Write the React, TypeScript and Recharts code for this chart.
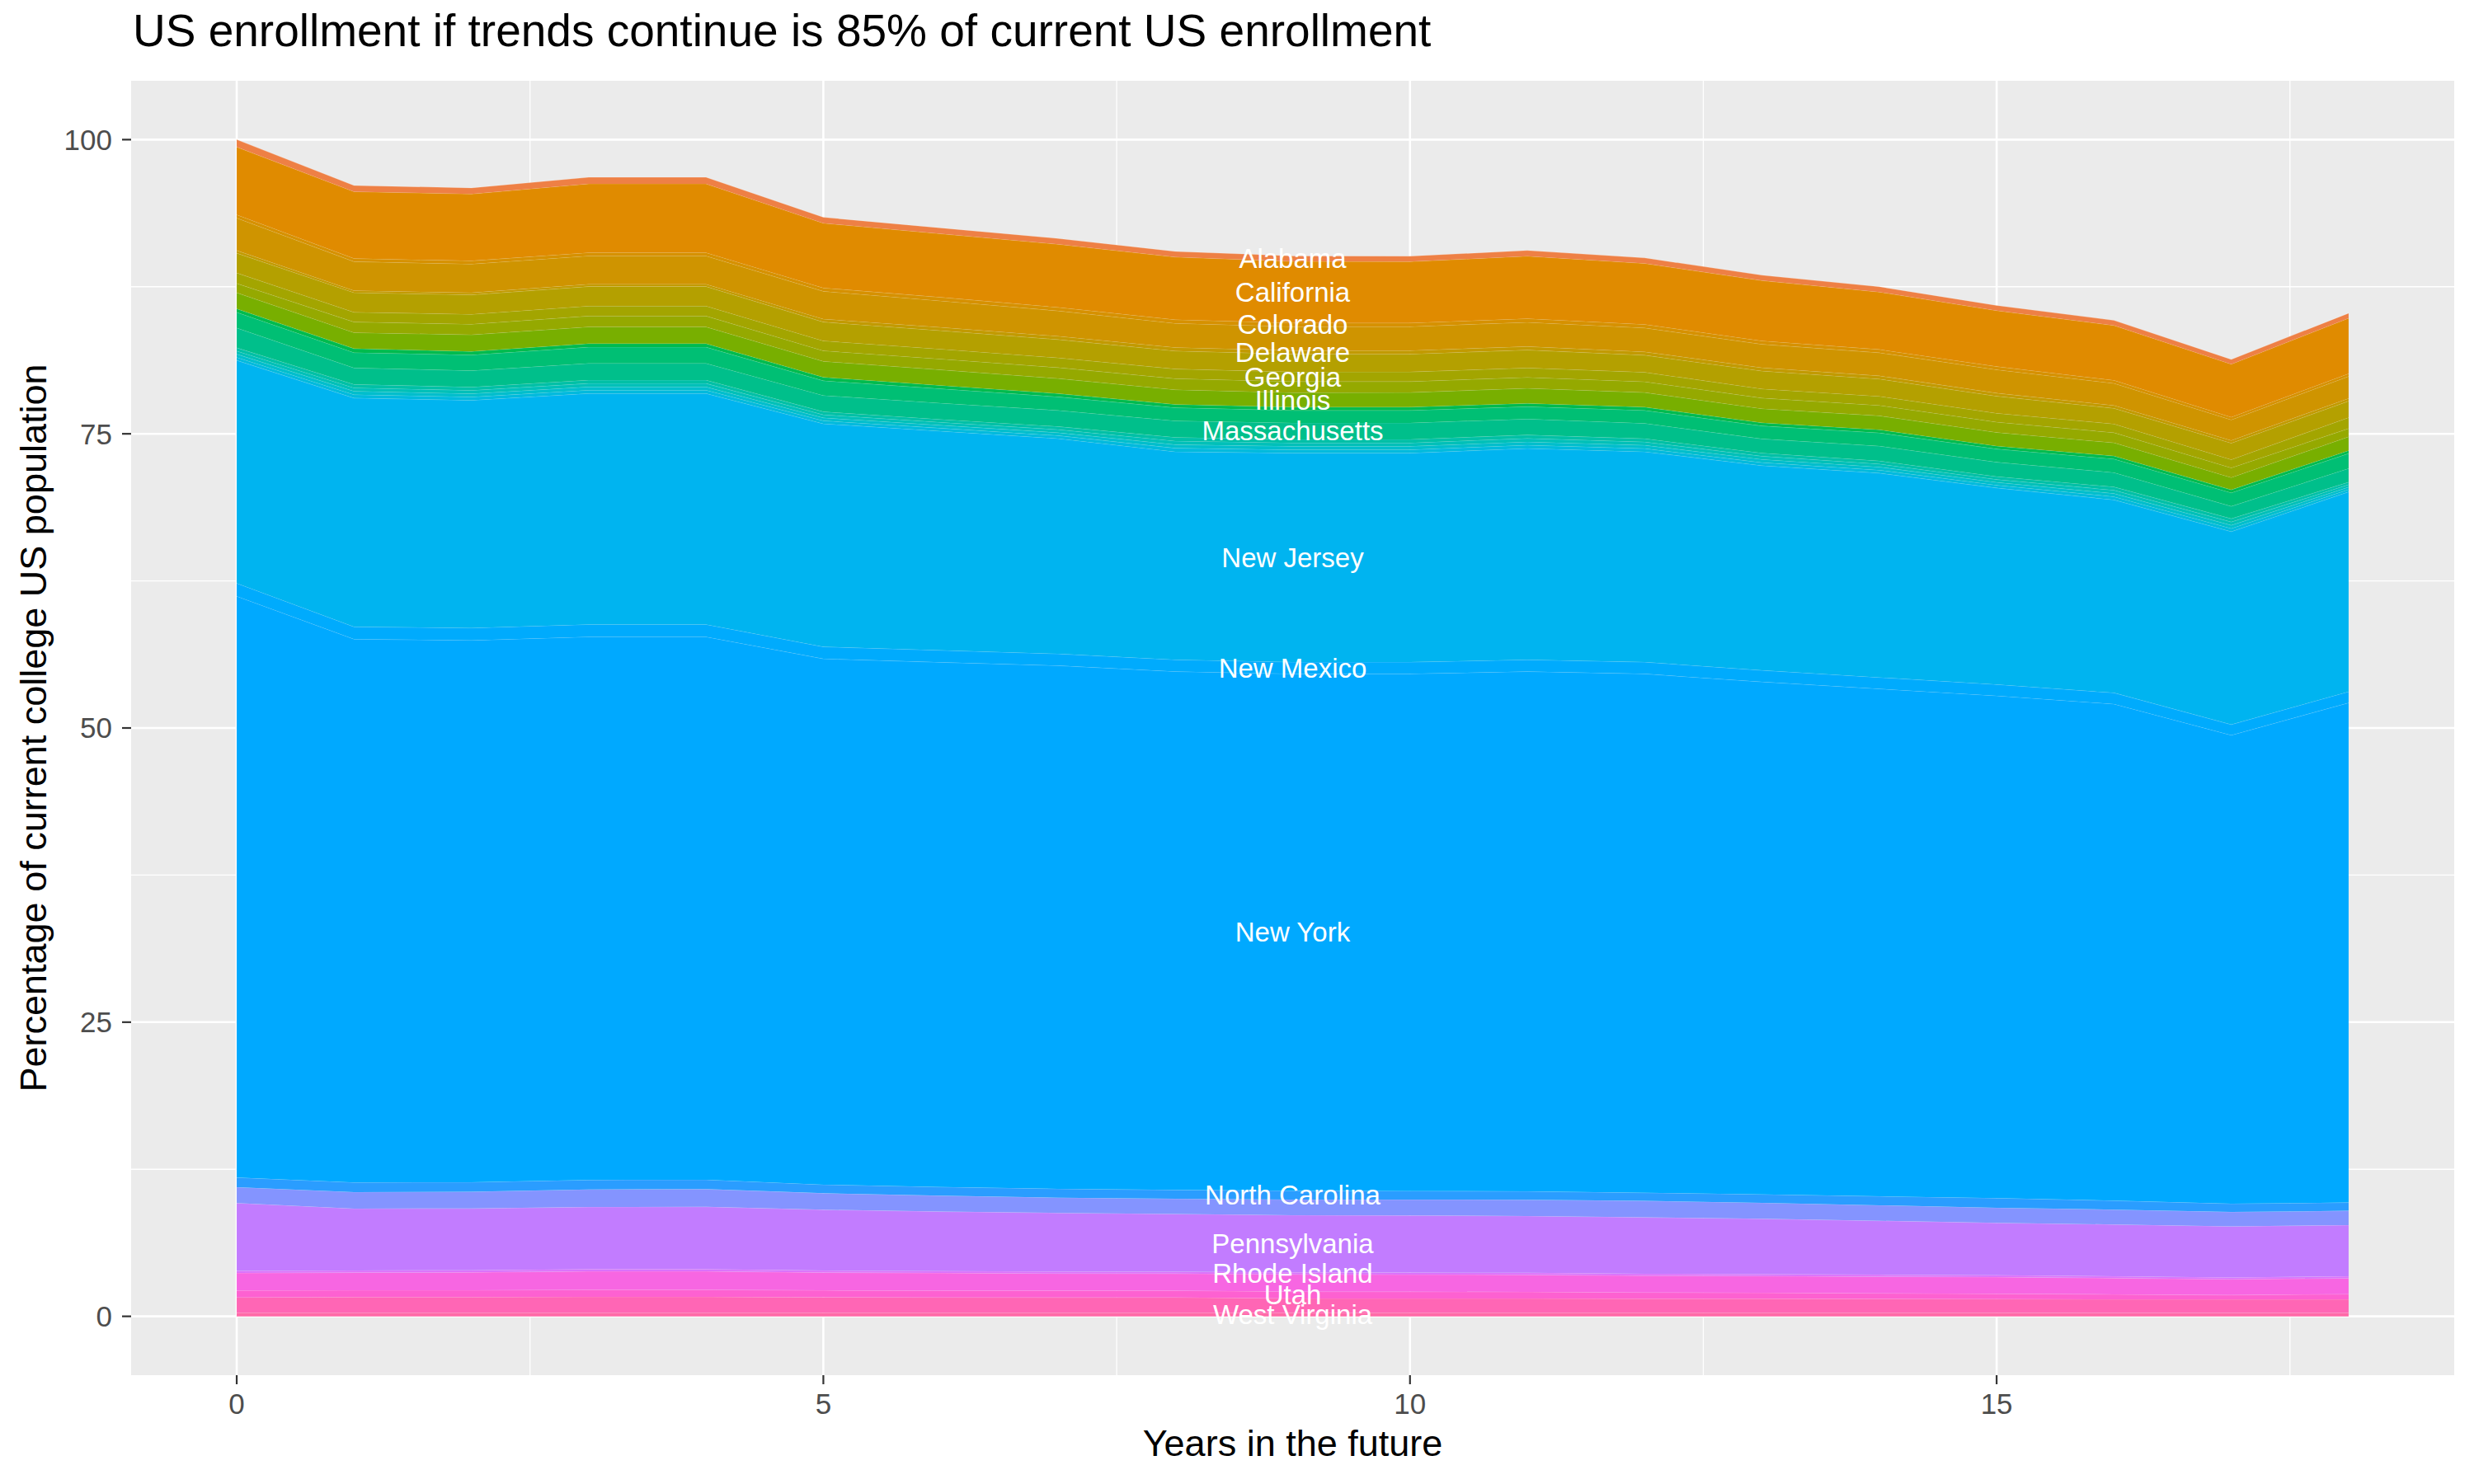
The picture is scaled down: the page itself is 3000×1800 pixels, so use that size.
import React from 'react'
import { AreaChart, Area, XAxis, YAxis, CartesianGrid, ReferenceDot } from 'recharts'

// years in the future
const years = [0, 1, 2, 3, 4, 5, 6, 7, 8, 9, 10, 11, 12, 13, 14, 15, 16, 17, 18]

// share of current college population, one array per state (top of stack first)
const alabama = [0.63, 0.52, 0.52, 0.55, 0.55, 0.5, 0.5, 0.49, 0.48, 0.47, 0.47, 0.48, 0.47, 0.46, 0.45, 0.44, 0.43, 0.4, 0.42]
const california = [5.75, 5.68, 5.68, 5.85, 5.85, 5.5, 5.4, 5.36, 5.32, 5.23, 5.21, 5.31, 5.18, 5.12, 4.88, 4.75, 4.66, 4.5, 4.72]
const colorado = [0.28, 0.27, 0.27, 0.28, 0.28, 0.29, 0.3, 0.3, 0.31, 0.31, 0.31, 0.31, 0.3, 0.29, 0.28, 0.27, 0.26, 0.23, 0.23]
const connecticut = [2.76, 2.46, 2.44, 2.4, 2.4, 2.35, 2.25, 2.15, 2.05, 2.03, 2.03, 2.06, 2.03, 1.99, 1.96, 1.99, 1.87, 1.75, 1.87]
const delaware = [0.23, 0.17, 0.18, 0.2, 0.2, 0.26, 0.28, 0.29, 0.3, 0.3, 0.3, 0.3, 0.29, 0.28, 0.27, 0.26, 0.25, 0.23, 0.23]
const florida = [1.68, 1.67, 1.65, 1.66, 1.66, 1.6, 1.57, 1.55, 1.53, 1.52, 1.52, 1.52, 1.45, 1.52, 1.47, 1.45, 1.33, 1.4, 1.4]
const georgia = [0.89, 0.83, 0.84, 0.85, 0.85, 0.84, 0.84, 0.83, 0.82, 0.82, 0.82, 0.8, 0.8, 0.78, 0.77, 0.75, 0.74, 0.7, 0.93]
const idaho = [0.79, 0.9, 0.9, 0.92, 0.92, 0.9, 0.92, 0.93, 0.94, 0.94, 0.93, 0.93, 0.92, 0.9, 0.89, 0.88, 0.86, 0.82, 0.7]
const illinois = [1.36, 1.36, 1.42, 1.42, 1.42, 1.35, 1.32, 1.28, 1.25, 1.23, 1.24, 1.28, 1.24, 1.2, 1.18, 1.15, 1.12, 1.05, 1.17]
const indiana = [0.3, 0.34, 0.3, 0.3, 0.3, 0.3, 0.29, 0.28, 0.28, 0.28, 0.28, 0.28, 0.28, 0.27, 0.27, 0.26, 0.26, 0.25, 0.25]
const maryland = [1.33, 1.3, 1.33, 1.38, 1.38, 1.25, 1.22, 1.15, 1.12, 1.06, 1.06, 1.05, 1.1, 1.1, 1.12, 1.12, 1.15, 1.15, 1.27]
const massachusetts = [1.69, 1.4, 1.4, 1.42, 1.42, 1.38, 1.38, 1.37, 1.4, 1.4, 1.4, 1.36, 1.3, 1.2, 1.26, 1.22, 1.22, 1.05, 1.17]
const michigan = [0.27, 0.29, 0.28, 0.29, 0.29, 0.26, 0.25, 0.26, 0.31, 0.3, 0.3, 0.29, 0.28, 0.27, 0.26, 0.25, 0.28, 0.28, 0.21]
const minnesota = [0.27, 0.29, 0.28, 0.29, 0.29, 0.26, 0.25, 0.26, 0.31, 0.29, 0.29, 0.29, 0.28, 0.27, 0.26, 0.24, 0.28, 0.28, 0.21]
const missouri = [0.27, 0.29, 0.28, 0.28, 0.28, 0.25, 0.25, 0.25, 0.3, 0.29, 0.29, 0.28, 0.28, 0.27, 0.26, 0.24, 0.27, 0.27, 0.2]
const newHampshire = [0.26, 0.29, 0.28, 0.28, 0.28, 0.25, 0.25, 0.25, 0.3, 0.29, 0.29, 0.28, 0.27, 0.26, 0.26, 0.24, 0.27, 0.27, 0.2]
const newJersey = [18.94, 19.44, 19.35, 19.63, 19.63, 18.96, 18.63, 18.3, 17.68, 17.76, 17.76, 17.96, 17.88, 17.4, 17.36, 16.7, 16.4, 16.4, 16.98]
const newMexico = [1.1, 1.05, 1.05, 1.05, 1.05, 1.02, 1.02, 1.0, 1.0, 1.0, 1.0, 1.0, 1.0, 0.98, 0.97, 0.96, 0.95, 0.9, 0.95]
const newYork = [49.4, 46.17, 46.05, 46.16, 46.14, 44.69, 44.59, 44.46, 44.06, 43.92, 43.95, 44.18, 44.1, 43.55, 43.13, 42.69, 42.21, 39.82, 42.47]
const northCarolina = [0.82, 0.82, 0.81, 0.8, 0.8, 0.73, 0.74, 0.75, 0.75, 0.75, 0.73, 0.71, 0.69, 0.72, 0.76, 0.82, 0.76, 0.7, 0.7]
const ohio = [1.35, 1.4, 1.42, 1.5, 1.5, 1.4, 1.35, 1.3, 1.29, 1.33, 1.35, 1.38, 1.4, 1.36, 1.32, 1.29, 1.26, 1.22, 1.22]
const pennsylvania = [5.77, 5.26, 5.25, 5.28, 5.3, 5.17, 5.05, 4.98, 4.9, 4.86, 4.85, 4.83, 4.79, 4.7, 4.58, 4.44, 4.4, 4.34, 4.35]
const rhodeIsland = [0.18, 0.18, 0.18, 0.18, 0.18, 0.17, 0.17, 0.17, 0.17, 0.17, 0.17, 0.17, 0.16, 0.16, 0.16, 0.16, 0.16, 0.16, 0.16]
const texas = [1.48, 1.5, 1.52, 1.57, 1.57, 1.51, 1.49, 1.46, 1.44, 1.47, 1.46, 1.45, 1.43, 1.43, 1.42, 1.42, 1.38, 1.34, 1.35]
const utah = [0.59, 0.58, 0.58, 0.6, 0.6, 0.59, 0.58, 0.58, 0.58, 0.58, 0.57, 0.56, 0.53, 0.5, 0.48, 0.45, 0.42, 0.37, 0.45]
const virginia = [1.31, 1.34, 1.34, 1.36, 1.36, 1.32, 1.31, 1.3, 1.31, 1.22, 1.22, 1.22, 1.2, 1.2, 1.18, 1.17, 1.16, 1.15, 1.15]
const westVirginia = [0.3, 0.3, 0.3, 0.3, 0.3, 0.3, 0.3, 0.3, 0.3, 0.3, 0.3, 0.3, 0.3, 0.3, 0.3, 0.3, 0.29, 0.29, 0.29]

// alphabetical order = top of the stack first (as ggplot stacks)
const states = [
  'Alabama', 'California', 'Colorado', 'Connecticut', 'Delaware', 'Florida', 'Georgia', 'Idaho',
  'Illinois', 'Indiana', 'Maryland', 'Massachusetts', 'Michigan', 'Minnesota', 'Missouri',
  'New Hampshire', 'New Jersey', 'New Mexico', 'New York', 'North Carolina', 'Ohio',
  'Pennsylvania', 'Rhode Island', 'Texas', 'Utah', 'Virginia', 'West Virginia',
]
const stateValues: Record<string, number[]> = {
  Alabama: alabama, California: california, Colorado: colorado, Connecticut: connecticut,
  Delaware: delaware, Florida: florida, Georgia: georgia, Idaho: idaho, Illinois: illinois,
  Indiana: indiana, Maryland: maryland, Massachusetts: massachusetts, Michigan: michigan,
  Minnesota: minnesota, Missouri: missouri, 'New Hampshire': newHampshire, 'New Jersey': newJersey,
  'New Mexico': newMexico, 'New York': newYork, 'North Carolina': northCarolina, Ohio: ohio,
  Pennsylvania: pennsylvania, 'Rhode Island': rhodeIsland, Texas: texas, Utah: utah,
  Virginia: virginia, 'West Virginia': westVirginia,
}

const labelled = [
  'Alabama', 'California', 'Colorado', 'Delaware', 'Georgia', 'Illinois', 'Massachusetts',
  'New Jersey', 'New Mexico', 'New York', 'North Carolina', 'Pennsylvania', 'Rhode Island',
  'Utah', 'West Virginia',
]
const labelYear = 9

const xTicks = [0, 5, 10, 15]
const xMinor = [2.5, 7.5, 12.5, 17.5]
const yTicks = [0, 25, 50, 75, 100]
const yMinor = [12.5, 37.5, 62.5, 87.5]

const colors: Record<string, string> = {
  Alabama: '#EE8045', California: '#E08B00', Colorado: '#D69100', Connecticut: '#CF9400',
  Delaware: '#C29A00', Florida: '#B4A000', Georgia: '#A3A500', Idaho: '#95A900',
  Illinois: '#78AF00', Indiana: '#00BB4E', Maryland: '#00BF74', Massachusetts: '#00BF8B',
  Michigan: '#00C0A6', Minnesota: '#00C0B8', Missouri: '#00BECC', 'New Hampshire': '#00BADD',
  'New Jersey': '#00B4F0', 'New Mexico': '#00ABFD', 'New York': '#00A9FF',
  'North Carolina': '#2A9DFF', Ohio: '#8494FF', Pennsylvania: '#C27CFF',
  'Rhode Island': '#DB72FB', Texas: '#F766E2', Utah: '#FD61D1', Virginia: '#FF66B5',
  'West Virginia': '#FF6AA8',
}

const data = years.map((t, i) => {
  const row: Record<string, number> = { t }
  states.forEach(s => { row[s] = stateValues[s][i] })
  return row
})

// label sits at the middle of its band in year 9
const li = years.indexOf(labelYear)
const labelPoints = labelled.map(name => {
  const k = states.indexOf(name)
  let below = 0
  for (let j = k + 1; j < states.length; j++) below += stateValues[states[j]][li]
  return { name, y: below + stateValues[name][li] / 2 }
})

const FONT = '"Liberation Sans", Arial, Helvetica, sans-serif'
const W = 3000
const H = 1800
const plot = { left: 159, top: 98, right: 2976, bottom: 1668 }

export default function App() {
  return (
    <div style={{ position: 'absolute', left: 0, top: 0, width: W, height: H, background: '#fff' }}>
      <AreaChart
        width={W}
        height={H}
        data={data}
        margin={{ top: plot.top, right: W - plot.right, bottom: 0, left: 0 }}
      >
        <CartesianGrid
          fill="#EBEBEB"
          fillOpacity={1}
          stroke="#FFFFFF"
          strokeWidth={1.3}
          horizontalValues={yMinor}
          verticalValues={xMinor}
        />
        <CartesianGrid
          stroke="#FFFFFF"
          strokeWidth={2.6}
          horizontalValues={yTicks}
          verticalValues={xTicks}
        />
        <XAxis
          dataKey="t"
          type="number"
          domain={[-0.9, 18.9]}
          ticks={xTicks}
          height={H - plot.bottom}
          axisLine={false}
          tickSize={11}
          tickMargin={11}
          tickLine={{ stroke: '#333333', strokeWidth: 2.2 }}
          tick={{ fill: '#4D4D4D', fontSize: 35, fontFamily: FONT }}
        />
        <YAxis
          type="number"
          domain={[-5, 105]}
          ticks={yTicks}
          width={plot.left}
          axisLine={false}
          tickSize={11}
          tickMargin={12}
          tickLine={{ stroke: '#333333', strokeWidth: 2.2 }}
          tick={{ fill: '#4D4D4D', fontSize: 35, fontFamily: FONT }}
        />
        {[...states].reverse().map(s => (
          <Area
            key={s}
            type="linear"
            dataKey={s}
            stackId="a"
            fill={colors[s]}
            fillOpacity={1}
            stroke="#FFFFFF"
            strokeOpacity={0.22}
            strokeWidth={1}
            dot={false}
            activeDot={false}
            isAnimationActive={false}
          />
        ))}
        {labelPoints.map(p => (
          <ReferenceDot
            key={p.name}
            x={labelYear}
            y={p.y}
            r={1}
            shape={(props: any) => (
              <text
                x={props.cx}
                y={props.cy}
                dy="0.35em"
                textAnchor="middle"
                fill="#FFFFFF"
                fontSize={33}
                fontFamily={FONT}
              >
                {p.name}
              </text>
            )}
          />
        ))}
      </AreaChart>
      <svg
        width={W}
        height={H}
        style={{ position: 'absolute', left: 0, top: 0, pointerEvents: 'none' }}
      >
        <text x={161} y={56} fontSize={55} fontFamily={FONT} fill="#000">
          US enrollment if trends continue is 85% of current US enrollment
        </text>
        <text
          x={(plot.left + plot.right) / 2}
          y={1766}
          textAnchor="middle"
          fontSize={45}
          fontFamily={FONT}
          fill="#000"
        >
          Years in the future
        </text>
        <text
          transform={`translate(56, ${(plot.top + plot.bottom) / 2}) rotate(-90)`}
          textAnchor="middle"
          fontSize={45}
          fontFamily={FONT}
          fill="#000"
        >
          Percentage of current college US population
        </text>
      </svg>
    </div>
  )
}
